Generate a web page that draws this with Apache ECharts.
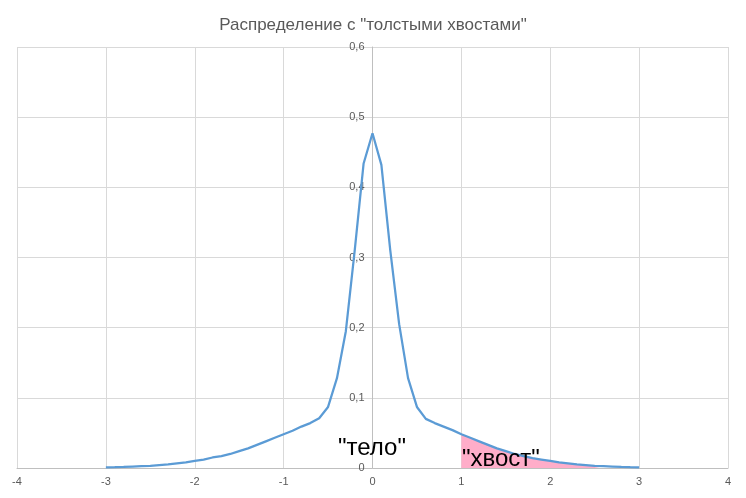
<!DOCTYPE html>
<html>
<head>
<meta charset="utf-8">
<script src="https://cdn.jsdelivr.net/npm/echarts@6/dist/echarts.min.js"></script>
<style>
  html, body { margin: 0; padding: 0; background: #fff; }
  #chart { width: 746px; height: 498px; }
</style>
</head>
<body>
<div id="chart"></div>
<script>
// Sample positions of the density curve
const xValues = [
  -3.0, -2.9, -2.8, -2.7, -2.6, -2.5, -2.4, -2.3, -2.2, -2.1,
  -2.0, -1.9, -1.8, -1.7, -1.6, -1.5, -1.4, -1.3, -1.2, -1.1,
  -1.0, -0.9, -0.8, -0.7, -0.6, -0.5, -0.4, -0.3, -0.2, -0.1,
  0.0,
  0.1, 0.2, 0.3, 0.4, 0.5, 0.6, 0.7, 0.8, 0.9, 1.0,
  1.1, 1.2, 1.3, 1.4, 1.5, 1.6, 1.7, 1.8, 1.9, 2.0,
  2.1, 2.2, 2.3, 2.4, 2.5, 2.6, 2.7, 2.8, 2.9, 3.0
];

// Density values at each sample position
const densityValues = [
  0.001, 0.0012, 0.0015, 0.002, 0.0025, 0.003, 0.004, 0.005, 0.0065, 0.008,
  0.010, 0.012, 0.015, 0.017, 0.020, 0.024, 0.028, 0.033, 0.038, 0.043,
  0.048, 0.053, 0.059, 0.064, 0.071, 0.087, 0.128, 0.195, 0.310, 0.434,
  0.477,
  0.432, 0.310, 0.205, 0.128, 0.087, 0.070, 0.064, 0.059, 0.054, 0.048,
  0.043, 0.038, 0.033, 0.028, 0.024, 0.020, 0.017, 0.014, 0.012, 0.010,
  0.008, 0.0065, 0.005, 0.004, 0.003, 0.0025, 0.002, 0.0015, 0.0012, 0.001
];

// Shaded tail range
const tailFrom = 1.0;
const tailTo = 2.6;

const xTicks = [-4, -3, -2, -1, 0, 1, 2, 3, 4];
const yTicks = [0, 0.1, 0.2, 0.3, 0.4, 0.5, 0.6];

const titleText = 'Распределение с "толстыми хвостами"';
const bodyLabel = '"тело"';
const tailLabel = '"хвост"';

const curve = xValues.map((x, i) => [x, densityValues[i]]);
const tail = curve.filter(p => p[0] >= tailFrom - 1e-9 && p[0] <= tailTo + 1e-9);

const chart = echarts.init(document.getElementById('chart'), null, { renderer: 'canvas' });

const fontFamily = '"Liberation Sans", Arial, sans-serif';
const gridLeft = 17;

chart.setOption({
  animation: false,
  backgroundColor: '#ffffff',
  title: {
    text: titleText,
    left: 'center',
    top: 12,
    textStyle: { color: '#595959', fontSize: 17, fontWeight: 'normal', fontFamily: fontFamily }
  },
  grid: { left: gridLeft, right: 18, top: 47, bottom: 30, containLabel: false, outerBoundsMode: 'none' },
  xAxis: {
    type: 'value',
    min: xTicks[0],
    max: xTicks[xTicks.length - 1],
    interval: 1,
    axisLine: { onZero: false, lineStyle: { color: '#bfbfbf', width: 1 } },
    axisTick: { show: false },
    axisLabel: { color: '#595959', fontSize: 11, fontFamily: fontFamily, margin: 8 },
    splitLine: { show: true, lineStyle: { color: '#d9d9d9', width: 1 } }
  },
  yAxis: {
    type: 'value',
    position: 'left',
    min: yTicks[0],
    max: yTicks[yTicks.length - 1],
    interval: 0.1,
    axisLine: { show: true, onZero: false, lineStyle: { color: '#bfbfbf', width: 1 } },
    axisTick: { show: false },
    axisLabel: {
      color: '#595959', fontSize: 11, fontFamily: fontFamily, margin: 8,
      formatter: v => String(Math.round(v * 10) / 10).replace('.', ',')
    },
    splitLine: { show: true, lineStyle: { color: '#d9d9d9', width: 1 } }
  },
  series: [
    {
      name: 'tail',
      type: 'line',
      data: tail,
      symbol: 'none',
      lineStyle: { width: 0, opacity: 0 },
      areaStyle: { color: '#ffadc9', opacity: 1 },
      z: 2
    },
    {
      name: 'density',
      type: 'line',
      data: curve,
      symbol: 'none',
      smooth: false,
      lineStyle: { color: '#5b9bd5', width: 2.25 },
      z: 3
    }
  ],
  graphic: [
    {
      type: 'text',
      left: 338,
      top: 436,
      z: 10,
      style: { text: bodyLabel, fill: '#000000', fontSize: 24, fontFamily: fontFamily }
    },
    {
      type: 'text',
      left: 462,
      top: 447,
      z: 10,
      style: { text: tailLabel, fill: '#000000', fontSize: 24, fontFamily: fontFamily }
    }
  ]
});

// Move the vertical axis (line and labels) onto x = 0
const zeroX = chart.convertToPixel({ xAxisIndex: 0 }, 0);
chart.setOption({ yAxis: { offset: -(zeroX - gridLeft) } });
</script>
</body>
</html>
